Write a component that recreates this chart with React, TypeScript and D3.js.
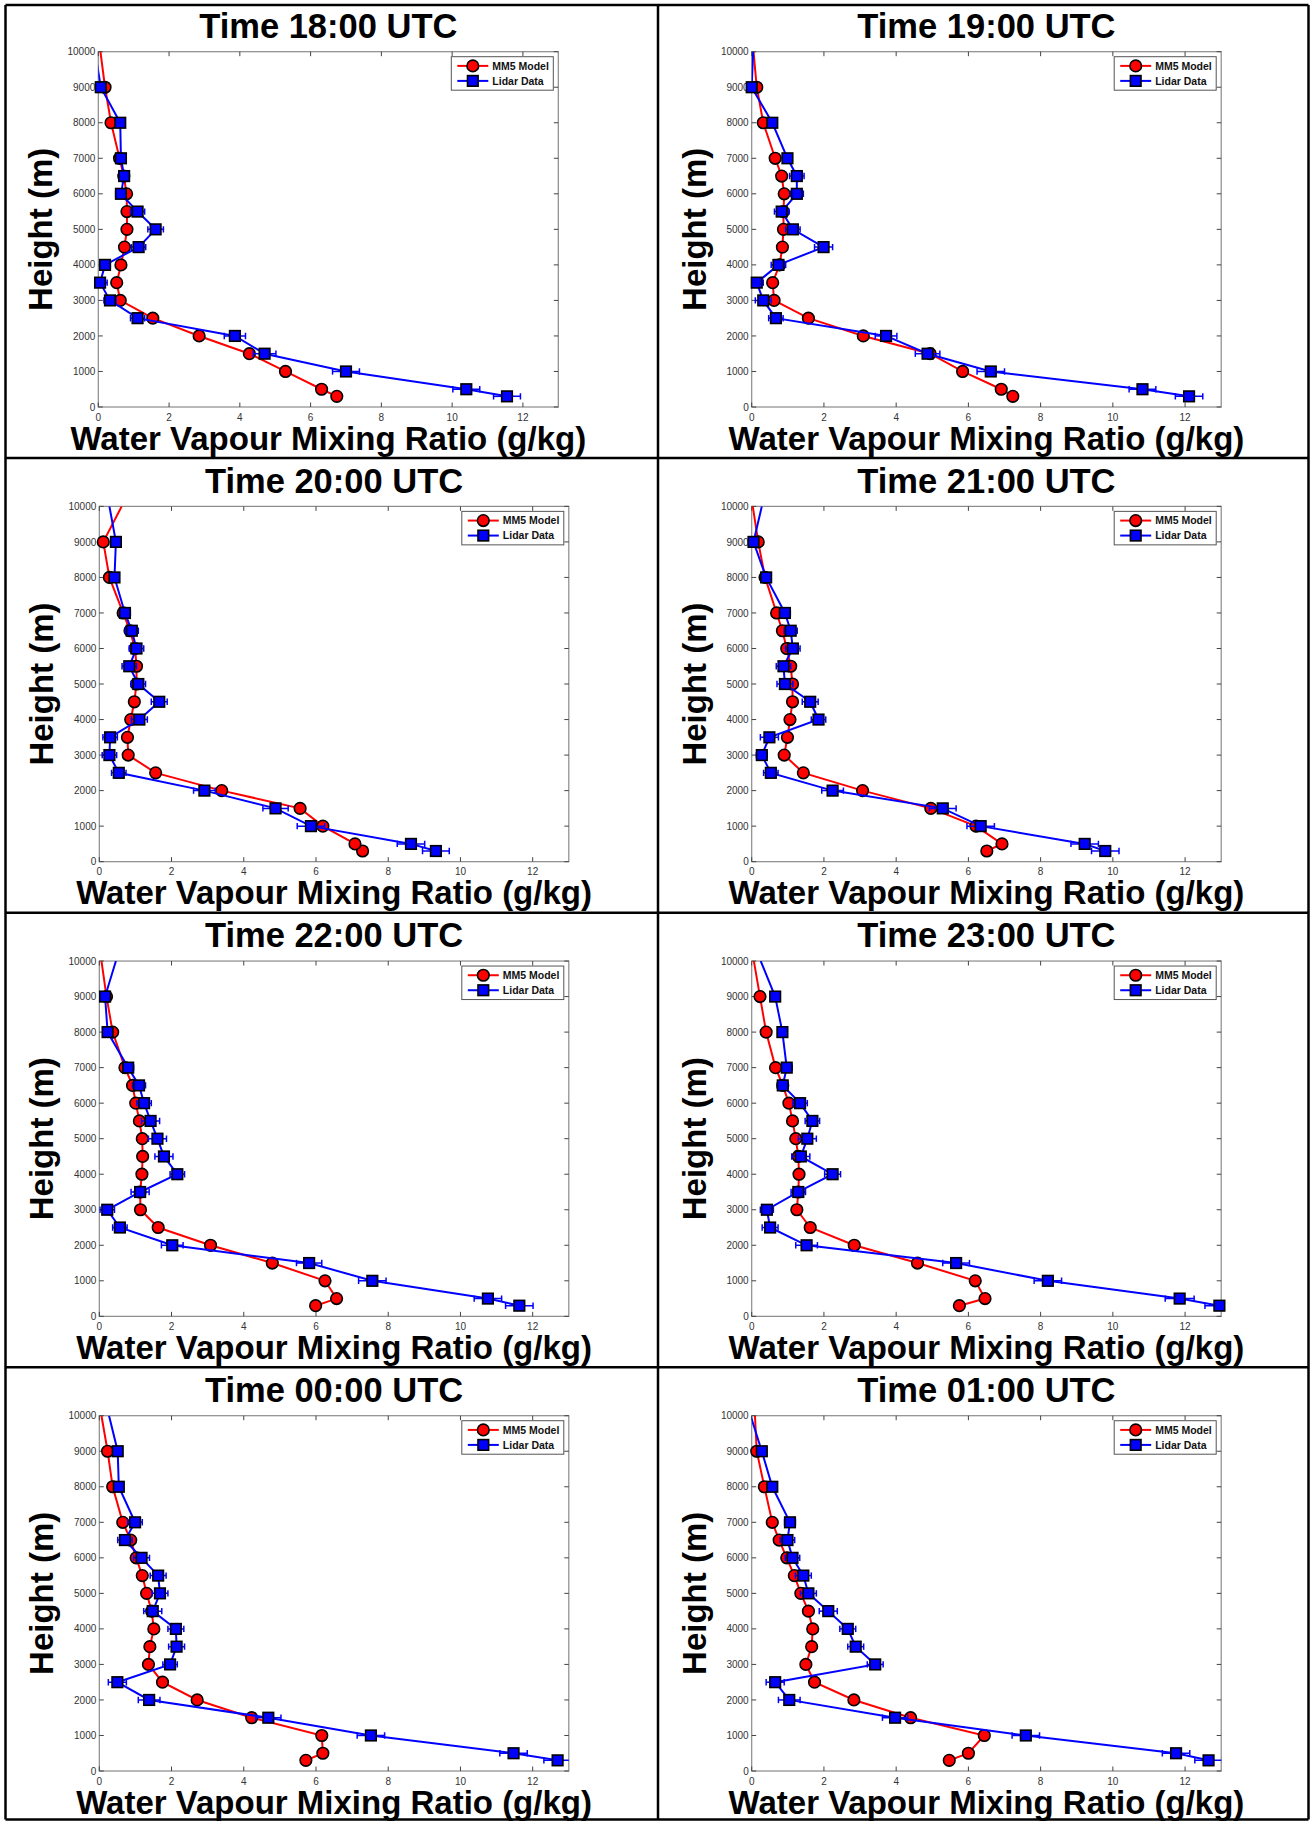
import React from 'react';
import * as d3 from 'd3';

// Heights (m) of the plotted levels
const heights = [300, 500, 1000, 1500, 2000, 2500, 3000, 3500, 4000, 4500, 5000, 5500, 6000, 6500, 7000, 8000, 9000];
const topHeight = 10000;

const titles = ['Time 18:00 UTC', 'Time 19:00 UTC', 'Time 20:00 UTC', 'Time 21:00 UTC', 'Time 22:00 UTC', 'Time 23:00 UTC', 'Time 00:00 UTC', 'Time 01:00 UTC'];

// MM5 model (g/kg) at heights
const model18 = [6.74, 6.31, 5.29, 4.27, 2.85, 1.54, 0.62, 0.52, 0.64, 0.74, 0.81, 0.81, 0.8, 0.72, 0.6, 0.36, 0.19];
const model19 = [7.23, 6.91, 5.84, 4.94, 3.09, 1.57, 0.62, 0.58, 0.77, 0.85, 0.88, 0.88, 0.9, 0.83, 0.65, 0.32, 0.14];
const model20 = [7.29, 7.08, 6.19, 5.56, 3.39, 1.56, 0.8, 0.78, 0.87, 0.97, 1.03, 1.03, 0.99, 0.85, 0.66, 0.28, 0.11];
const model21 = [6.51, 6.93, 6.21, 4.96, 3.07, 1.43, 0.9, 0.99, 1.06, 1.13, 1.13, 1.08, 0.97, 0.85, 0.69, 0.37, 0.18];
const model22 = [5.99, 6.57, 6.25, 4.79, 3.08, 1.63, 1.14, 1.13, 1.18, 1.2, 1.19, 1.11, 1.01, 0.92, 0.71, 0.37, 0.2];
const model23 = [5.75, 6.46, 6.19, 4.59, 2.84, 1.62, 1.25, 1.29, 1.31, 1.29, 1.22, 1.13, 1.03, 0.86, 0.66, 0.4, 0.23];
const model00 = [5.72, 6.19, 6.16, 4.22, 2.71, 1.75, 1.36, 1.4, 1.51, 1.45, 1.31, 1.19, 1.02, 0.87, 0.65, 0.37, 0.23];
const model01 = [5.47, 6.0, 6.44, 4.4, 2.83, 1.74, 1.5, 1.66, 1.69, 1.57, 1.36, 1.18, 0.97, 0.76, 0.57, 0.35, 0.14];

// Lidar data (g/kg) at heights
const lidar18 = [11.55, 10.4, 7.0, 4.7, 3.86, 1.11, 0.33, 0.05, 0.19, 1.14, 1.62, 1.11, 0.64, 0.73, 0.64, 0.62, 0.07];
const lidar19 = [12.11, 10.82, 6.62, 4.87, 3.72, 0.67, 0.32, 0.14, 0.74, 1.99, 1.14, 0.83, 1.25, 1.25, 0.99, 0.57, 0.0];
const lidar20 = [9.32, 8.63, 5.86, 4.88, 2.91, 0.54, 0.28, 0.3, 1.11, 1.66, 1.08, 0.83, 1.03, 0.9, 0.71, 0.42, 0.46];
const lidar21 = [9.79, 9.22, 6.34, 5.29, 2.24, 0.53, 0.28, 0.49, 1.85, 1.62, 0.92, 0.88, 1.14, 1.08, 0.92, 0.4, 0.05];
const lidar22 = [11.63, 10.76, 7.56, 5.81, 2.02, 0.57, 0.22, 1.13, 2.16, 1.79, 1.61, 1.42, 1.24, 1.1, 0.8, 0.23, 0.16];
const lidar23 = [12.95, 11.85, 8.2, 5.66, 1.52, 0.51, 0.42, 1.29, 2.24, 1.36, 1.54, 1.68, 1.34, 0.86, 0.97, 0.85, 0.65];
const lidar00 = [12.69, 11.47, 7.52, 4.68, 1.38, 0.5, 1.96, 2.14, 2.12, 1.48, 1.68, 1.63, 1.17, 0.71, 0.99, 0.54, 0.51];
const lidar01 = [12.65, 11.75, 7.59, 3.97, 1.04, 0.65, 3.42, 2.88, 2.66, 2.12, 1.57, 1.43, 1.13, 0.99, 1.06, 0.57, 0.28];

// Lidar error (± g/kg) at heights
const err18 = [0.38, 0.38, 0.38, 0.32, 0.3, 0.2, 0.17, 0.2, 0.15, 0.2, 0.22, 0.2, 0.15, 0.12, 0.1, 0.08, 0.05];
const err19 = [0.38, 0.37, 0.38, 0.34, 0.3, 0.2, 0.22, 0.18, 0.2, 0.25, 0.2, 0.2, 0.18, 0.2, 0.12, 0.08, 0.05];
const err20 = [0.37, 0.38, 0.38, 0.35, 0.3, 0.2, 0.2, 0.2, 0.22, 0.22, 0.2, 0.2, 0.2, 0.18, 0.15, 0.1, 0.08];
const err21 = [0.38, 0.38, 0.38, 0.37, 0.3, 0.2, 0.15, 0.25, 0.2, 0.22, 0.22, 0.2, 0.2, 0.18, 0.15, 0.1, 0.08];
const err22 = [0.38, 0.38, 0.38, 0.35, 0.3, 0.2, 0.2, 0.25, 0.2, 0.25, 0.25, 0.25, 0.2, 0.18, 0.15, 0.1, 0.08];
const err23 = [0.4, 0.4, 0.38, 0.37, 0.3, 0.22, 0.18, 0.2, 0.22, 0.25, 0.25, 0.2, 0.2, 0.15, 0.15, 0.1, 0.08];
const err00 = [0.38, 0.38, 0.38, 0.35, 0.3, 0.25, 0.2, 0.22, 0.22, 0.25, 0.22, 0.22, 0.22, 0.2, 0.2, 0.1, 0.08];
const err01 = [0.38, 0.38, 0.38, 0.35, 0.3, 0.25, 0.22, 0.22, 0.22, 0.25, 0.22, 0.22, 0.2, 0.2, 0.15, 0.1, 0.08];

// Values where each line leaves the top of the axes (10000 m)
const modelTop = [0.06, 0.05, 0.62, 0.03, 0.06, 0.06, 0.06, 0.09];
const lidarTop = [-0.09, 0.04, 0.28, 0.28, 0.46, 0.25, 0.27, -0.03];

const xTicks = [0, 2, 4, 6, 8, 10, 12];
const yTicks = [0, 1000, 2000, 3000, 4000, 5000, 6000, 7000, 8000, 9000, 10000];
const xLabel = 'Water Vapour Mixing Ratio (g/kg)';
const yLabel = 'Height (m)';
const legendLabels = ['MM5 Model', 'Lidar Data'];

const modelSeries = [model18, model19, model20, model21, model22, model23, model00, model01];
const lidarSeries = [lidar18, lidar19, lidar20, lidar21, lidar22, lidar23, lidar00, lidar01];
const errSeries = [err18, err19, err20, err21, err22, err23, err00, err01];

const FONT = '"Liberation Sans", Arial, Helvetica, sans-serif';
const W = 1313;
const H = 1821;
const ROW0 = 51.7;
const ROWSTEP = 454.67;
const PLOT_H = 355.3;
const COL_LEFT = [99.3, 751.7];
const PLOT_W = 469.5;

type Pt = { x: number; y: number };

function Panel({ i }: { i: number }) {
  const col = i % 2;
  const row = Math.floor(i / 2);
  const left = i === 0 ? 98.3 : COL_LEFT[col];
  const width = i === 0 ? 460 : PLOT_W;
  const top = ROW0 + ROWSTEP * row;
  const bottom = top + PLOT_H;
  const right = left + width;

  const x = d3.scaleLinear().domain([0, 13]).range([left, right]);
  const y = d3.scaleLinear().domain([0, 10000]).range([bottom, top]);

  const model = modelSeries[i];
  const lidar = lidarSeries[i];
  const err = errSeries[i];

  const modelPts: Pt[] = heights.map((h, k) => ({ x: model[k], y: h }));
  const lidarPts: Pt[] = heights.map((h, k) => ({ x: lidar[k], y: h }));
  const modelLinePts = [...modelPts, { x: modelTop[i], y: topHeight }];
  const lidarLinePts = [...lidarPts, { x: lidarTop[i], y: topHeight }];

  const line = d3
    .line<Pt>()
    .x((d) => x(d.x))
    .y((d) => y(d.y));

  const clipId = `clip-${i}`;
  const tickLen = 4.5;
  const axisColor = '#8a8a8a';
  const tickColor = '#444';
  const markerR = 5.8;
  const sq = 10.6;

  const midX = (left + right) / 2;
  const midY = (top + bottom) / 2;

  // Legend geometry
  const lgW = 102;
  const lgH = 33.5;
  const lgX = right - 5 - lgW;
  const lgY = top + 5;

  return (
    <g>
      <defs>
        <clipPath id={clipId}>
          <rect x={left} y={top} width={width} height={PLOT_H} />
        </clipPath>
      </defs>
      {/* title */}
      <text x={midX} y={top - 13.8} textAnchor="middle" fontFamily={FONT} fontWeight="bold" fontSize={34.5} fill="#000">
        {titles[i]}
      </text>
      {/* axes box */}
      <rect x={left} y={top} width={width} height={PLOT_H} fill="#fff" stroke={axisColor} strokeWidth={1.2} />
      {/* ticks */}
      {xTicks.map((t) => (
        <g key={`xt${t}`}>
          <line x1={x(t)} x2={x(t)} y1={bottom} y2={bottom - tickLen} stroke={tickColor} strokeWidth={1} />
          <line x1={x(t)} x2={x(t)} y1={top} y2={top + tickLen} stroke={tickColor} strokeWidth={1} />
          <text x={x(t)} y={bottom + 13.5} textAnchor="middle" fontFamily={FONT} fontSize={10} fill="#333">
            {t}
          </text>
        </g>
      ))}
      {yTicks.map((t) => (
        <g key={`yt${t}`}>
          <line x1={left} x2={left + tickLen} y1={y(t)} y2={y(t)} stroke={tickColor} strokeWidth={1} />
          <line x1={right} x2={right - tickLen} y1={y(t)} y2={y(t)} stroke={tickColor} strokeWidth={1} />
          <text x={left - 3} y={y(t) + 3.6} textAnchor="end" fontFamily={FONT} fontSize={10} fill="#333">
            {t}
          </text>
        </g>
      ))}
      {/* model series */}
      <g clipPath={`url(#${clipId})`}>
        <path d={line(modelLinePts) || ''} fill="none" stroke="#ff0000" strokeWidth={2} />
      </g>
      {modelPts.map((d, k) => (
        <circle key={`m${k}`} cx={x(d.x)} cy={y(d.y)} r={markerR} fill="#ff0000" stroke="#000" strokeWidth={1.6} />
      ))}
      {/* lidar series */}
      <g clipPath={`url(#${clipId})`}>
        <path d={line(lidarLinePts) || ''} fill="none" stroke="#0000ff" strokeWidth={2} />
        {lidarPts.map((d, k) => {
          const x0 = x(d.x - err[k]);
          const x1 = x(d.x + err[k]);
          const yy = y(d.y);
          return (
            <g key={`e${k}`} stroke="#0000ff" strokeWidth={1.5}>
              <line x1={x0} x2={x1} y1={yy} y2={yy} />
              <line x1={x0} x2={x0} y1={yy - 3.2} y2={yy + 3.2} />
              <line x1={x1} x2={x1} y1={yy - 3.2} y2={yy + 3.2} />
            </g>
          );
        })}
      </g>
      {lidarPts.map((d, k) => (
        <rect
          key={`l${k}`}
          x={x(d.x) - sq / 2}
          y={y(d.y) - sq / 2}
          width={sq}
          height={sq}
          fill="#0000ff"
          stroke="#000"
          strokeWidth={1.6}
        />
      ))}
      {/* legend */}
      <rect x={lgX} y={lgY} width={lgW} height={lgH} fill="#fff" stroke="#555" strokeWidth={1} />
      {[0, 1].map((k) => {
        const ly = lgY + 9.2 + k * 15;
        const color = k === 0 ? '#ff0000' : '#0000ff';
        const lx0 = lgX + 6;
        const lx1 = lgX + 37;
        const cx = (lx0 + lx1) / 2;
        return (
          <g key={`lg${k}`}>
            <line x1={lx0} x2={lx1} y1={ly} y2={ly} stroke={color} strokeWidth={2} />
            {k === 0 ? (
              <circle cx={cx} cy={ly} r={markerR} fill={color} stroke="#000" strokeWidth={1.6} />
            ) : (
              <rect x={cx - sq / 2} y={ly - sq / 2} width={sq} height={sq} fill={color} stroke="#000" strokeWidth={1.6} />
            )}
            <text x={lgX + 41} y={ly + 3.8} fontFamily={FONT} fontWeight="bold" fontSize={10.5} fill="#111">
              {legendLabels[k]}
            </text>
          </g>
        );
      })}
      {/* axis labels */}
      <text x={midX} y={bottom + 42.5} textAnchor="middle" fontFamily={FONT} fontWeight="bold" fontSize={33} fill="#000">
        {xLabel}
      </text>
      <text
        transform={`translate(${left - 46},${midY}) rotate(-90)`}
        textAnchor="middle"
        fontFamily={FONT}
        fontWeight="bold"
        fontSize={33}
        fill="#000"
      >
        {yLabel}
      </text>
    </g>
  );
}

export default function App() {
  const panels = d3.range(8);
  const vLines = [5.5, 658, 1308.5];
  const hLines = [5, 458, 912.7, 1367.3, 1819.5];
  return (
    <div style={{ position: 'absolute', left: 0, top: 0 }}>
      <svg width={W} height={H} style={{ display: 'block', background: '#fff' }}>
        <rect x={0} y={0} width={W} height={H} fill="#fff" />
        {panels.map((i) => (
          <Panel key={i} i={i} />
        ))}
        {vLines.map((vx) => (
          <line key={`v${vx}`} x1={vx} x2={vx} y1={5} y2={1819.5} stroke="#000" strokeWidth={2.5} />
        ))}
        {hLines.map((hy) => (
          <line key={`h${hy}`} x1={5.5} x2={1308.5} y1={hy} y2={hy} stroke="#000" strokeWidth={2.5} />
        ))}
      </svg>
    </div>
  );
}
